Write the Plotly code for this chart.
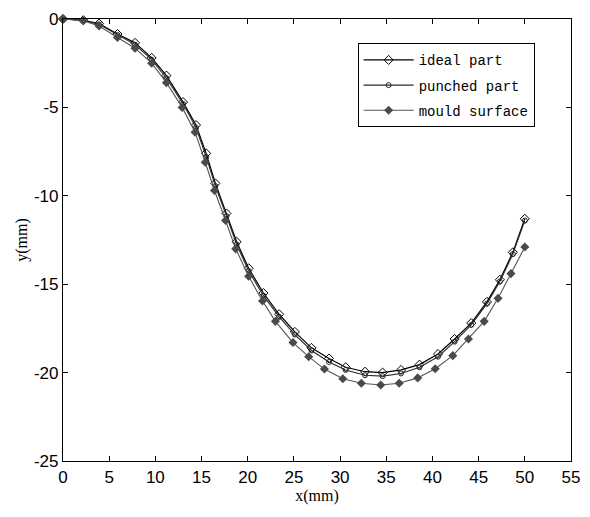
import plotly.graph_objects as go

# x positions (mm) of the sampled points
x_ideal = [0, 2.2, 3.9, 5.9, 7.8, 9.6, 11.2, 13.0, 14.4, 15.5, 16.5, 17.7, 18.8, 20.1, 21.7,
           23.4, 25.1, 26.9, 28.8, 30.6, 32.7, 34.6, 36.6, 38.6, 40.6, 42.4, 44.2, 45.9, 47.3, 48.7, 50.0]
y_ideal = [0, -0.07, -0.26, -0.85, -1.35, -2.2, -3.2, -4.7, -6.0, -7.6, -9.3, -11.0, -12.6, -14.1, -15.5,
           -16.7, -17.7, -18.6, -19.2, -19.7, -19.95, -20.0, -19.85, -19.55, -18.95, -18.1, -17.2, -16.0, -14.75, -13.2, -11.3]

x_punched = x_ideal
y_punched = [0, -0.08, -0.3, -0.9, -1.45, -2.3, -3.35, -4.8, -6.15, -7.8, -9.45, -11.15, -12.75, -14.25, -15.65,
             -16.85, -17.85, -18.75, -19.4, -19.85, -20.15, -20.2, -20.05, -19.7, -19.1, -18.25, -17.3, -16.1, -14.85, -13.3, -11.4]

x_mould = [0, 2.2, 3.9, 5.9, 7.8, 9.6, 11.2, 12.9, 14.3, 15.4, 16.4, 17.6, 18.7, 20.1, 21.6,
           23.0, 24.9, 26.6, 28.3, 30.3, 32.3, 34.4, 36.4, 38.4, 40.3, 42.2, 43.9, 45.6, 47.1, 48.5, 50.0]
y_mould = [0, -0.1, -0.4, -1.05, -1.65, -2.5, -3.6, -5.0, -6.4, -8.1, -9.7, -11.4, -13.0, -14.55, -15.95,
           -17.1, -18.3, -19.1, -19.8, -20.35, -20.6, -20.7, -20.6, -20.3, -19.78, -19.04, -18.1, -17.1, -15.8, -14.4, -12.9]

x_ticks = [0, 5, 10, 15, 20, 25, 30, 35, 40, 45, 50, 55]
y_ticks = [0, -5, -10, -15, -20, -25]

fig = go.Figure()
fig.add_trace(go.Scatter(
    x=x_ideal, y=y_ideal, name="ideal part", mode="lines+markers", legendgroup="a",
    line=dict(color="#000000", width=1.2),
    marker=dict(symbol="diamond-open", size=7, color="#000000", line=dict(width=1)),
    cliponaxis=False))
fig.add_trace(go.Scatter(
    x=x_punched, y=y_punched, name="punched part", mode="lines+markers", legendgroup="b",
    line=dict(color="#2a2a2a", width=1.1),
    marker=dict(symbol="circle-open", size=5, color="#2a2a2a", line=dict(width=1)),
    cliponaxis=False))
fig.add_trace(go.Scatter(
    x=x_mould, y=y_mould, name="mould surface", mode="lines+markers", legendgroup="c",
    line=dict(color="#555555", width=1.1),
    marker=dict(symbol="diamond", size=7, color="#4a4a4a"),
    cliponaxis=False))

axis_common = dict(
    showline=True, linecolor="#000000", linewidth=1.2, mirror="ticks",
    ticks="inside", ticklen=5, tickcolor="#000000", tickwidth=1,
    showgrid=False, zeroline=False,
    tickfont=dict(family="Liberation Sans Narrow, Liberation Sans, Arial", size=17, color="#000000"),
)

fig.update_xaxes(range=[0, 55], tickvals=x_ticks, ticktext=[str(v) for v in x_ticks],
                 title=dict(text="x(mm)", font=dict(family="Liberation Serif, Times New Roman", size=16, color="#000000"),
                            standoff=4),
                 **axis_common)
fig.update_yaxes(range=[-25, 0], tickvals=y_ticks, ticktext=[str(v) for v in y_ticks],
                 title=dict(text="y(mm)", font=dict(family="Liberation Serif, Times New Roman", size=16, color="#000000"),
                            standoff=2),
                 **axis_common)

fig.update_layout(
    width=590, height=517,
    margin=dict(l=63, r=10, t=17, b=56),
    paper_bgcolor="#ffffff", plot_bgcolor="#ffffff",
    showlegend=True,
    legend=dict(x=0.58, y=0.945, xanchor="left", yanchor="top",
                bgcolor="#ffffff", bordercolor="#000000", borderwidth=1,
                font=dict(family="Liberation Mono, DejaVu Sans Mono, monospace", size=14, color="#000000"),
                tracegroupgap=4, itemwidth=50),
)

fig.write_html("out.html", config={"displayModeBar": False},
               post_script="document.body.style.margin='0';")
